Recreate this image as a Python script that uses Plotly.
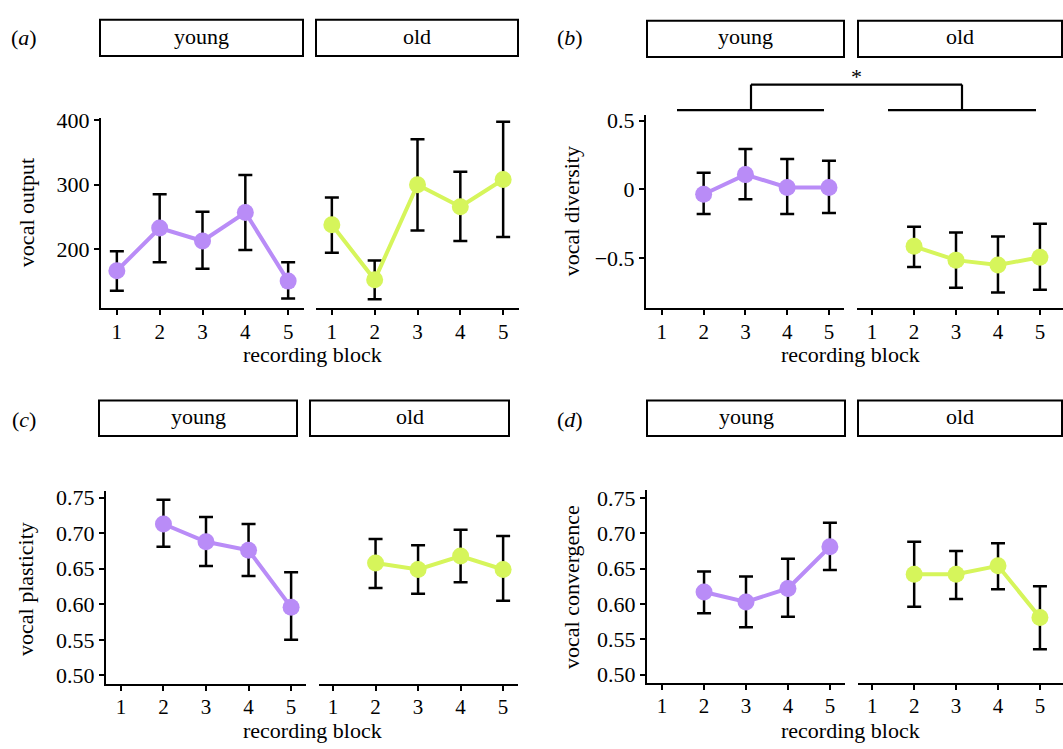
import plotly.graph_objects as go

W, H = 1063, 749

blocks = [1, 2, 3, 4, 5]
tick_labels = ["1", "2", "3", "4", "5"]

# (a) vocal output
a_young = [167, 233, 213, 257, 151]
a_young_hi = [197, 285, 258, 315, 180]
a_young_lo = [136, 180, 170, 199, 124]
a_old = [238, 153, 300, 266, 308]
a_old_hi = [280, 183, 370, 320, 397]
a_old_lo = [195, 123, 229, 213, 219]

# (b) vocal diversity
b_young = [None, -0.036, 0.107, 0.014, 0.014]
b_young_hi = [None, 0.121, 0.293, 0.221, 0.207]
b_young_lo = [None, -0.179, -0.071, -0.179, -0.171]
b_old = [None, -0.414, -0.514, -0.550, -0.493]
b_old_hi = [None, -0.271, -0.314, -0.343, -0.250]
b_old_lo = [None, -0.564, -0.714, -0.750, -0.729]

# (c) vocal plasticity
c_young = [None, 0.713, 0.688, 0.676, 0.596]
c_young_hi = [None, 0.747, 0.723, 0.713, 0.645]
c_young_lo = [None, 0.681, 0.654, 0.640, 0.550]
c_old = [None, 0.658, 0.649, 0.668, 0.649]
c_old_hi = [None, 0.692, 0.683, 0.705, 0.696]
c_old_lo = [None, 0.623, 0.615, 0.631, 0.605]

# (d) vocal convergence
d_young = [None, 0.617, 0.603, 0.622, 0.681]
d_young_hi = [None, 0.646, 0.639, 0.664, 0.715]
d_young_lo = [None, 0.587, 0.567, 0.582, 0.648]
d_old = [None, 0.642, 0.642, 0.654, 0.581]
d_old_hi = [None, 0.688, 0.675, 0.686, 0.625]
d_old_lo = [None, 0.596, 0.607, 0.621, 0.536]

PURPLE = "#B98CF7"
GREEN = "#D6F55B"
FONT = "Liberation Serif"
FS = 22
TFS = 21

def px(x):
    return x / W

def py(y):
    return 1 - y / H

fig = go.Figure()

def add_series(vals, hi, lo, color, xa, ya):
    plus = [None if v is None else h - v for v, h in zip(vals, hi)]
    minus = [None if v is None else v - l for v, l in zip(vals, lo)]
    fig.add_trace(go.Scatter(
        x=blocks, y=vals, mode="lines+markers", xaxis=xa, yaxis=ya,
        line=dict(color=color, width=4),
        marker=dict(color=color, size=17),
        error_y=dict(type="data", array=plus, arrayminus=minus, symmetric=False,
                     color="black", thickness=2.5, width=7),
        showlegend=False, connectgaps=False, cliponaxis=False,
    ))

panels = [
    dict(yd=(110, 304), xy=(101, 304), xo=(316, 519), yr=[109, 403],
         tv=[200, 300, 400], tt=["200", "300", "400"], ry=[0.63, 5.37], ro=[0.63, 5.37],
         data=(a_young, a_young_hi, a_young_lo, a_old, a_old_hi, a_old_lo)),
    dict(yd=(107, 304), xy=(646, 844), xo=(857, 1063), yr=[-0.864, 0.54],
         tv=[-0.5, 0, 0.5], tt=["\u22120.5", "0", "0.5"], ry=[0.62, 5.36], ro=[0.64, 5.55],
         data=(b_young, b_young_hi, b_young_lo, b_old, b_old_hi, b_old_lo)),
    dict(yd=(490, 687), xy=(106, 306), xo=(319, 518), yr=[0.4876, 0.7597],
         tv=[0.5, 0.55, 0.6, 0.65, 0.7, 0.75],
         tt=["0.50", "0.55", "0.60", "0.65", "0.70", "0.75"], ry=[0.65, 5.35], ro=[0.67, 5.35],
         data=(c_young, c_young_hi, c_young_lo, c_old, c_old_hi, c_old_lo)),
    dict(yd=(489, 686), xy=(647, 845), xo=(858, 1063), yr=[0.488, 0.7615],
         tv=[0.5, 0.55, 0.6, 0.65, 0.7, 0.75],
         tt=["0.50", "0.55", "0.60", "0.65", "0.70", "0.75"], ry=[0.64, 5.36], ro=[0.66, 5.55],
         data=(d_young, d_young_hi, d_young_lo, d_old, d_old_hi, d_old_lo)),
]

layout = {}
ytickfont = dict(family=FONT, size=FS, color="black")
xtickfont = dict(family=FONT, size=TFS, color="black")
for i, p in enumerate(panels):
    yi = i + 1
    xyi = 2 * i + 1
    xoi = 2 * i + 2
    yname = "yaxis" if yi == 1 else f"yaxis{yi}"
    layout[yname] = dict(
        domain=[py(p["yd"][1]), py(p["yd"][0])], range=p["yr"],
        anchor=f"x{xyi}" if xyi > 1 else "x",
        showline=True, linecolor="black", linewidth=2, ticks="outside", ticklen=5,
        tickwidth=1.5, tickcolor="black", tickvals=p["tv"], ticktext=p["tt"],
        showgrid=False, zeroline=False, tickfont=ytickfont,
    )
    yref = "y" if yi == 1 else f"y{yi}"
    for xi, dom, rng in ((xyi, p["xy"], p["ry"]), (xoi, p["xo"], p["ro"])):
        xname = "xaxis" if xi == 1 else f"xaxis{xi}"
        layout[xname] = dict(
            domain=[px(dom[0]), px(dom[1])], range=rng, anchor=yref,
            showline=True, linecolor="black", linewidth=2, ticks="outside", ticklen=5,
            tickwidth=1.5, tickcolor="black", tickvals=blocks, ticktext=tick_labels,
            showgrid=False, zeroline=False, tickfont=xtickfont, ticklabelstandoff=-2,
        )
    yv, yh, yl, ov, oh, ol = p["data"]
    add_series(yv, yh, yl, PURPLE, "x" if xyi == 1 else f"x{xyi}", yref)
    add_series(ov, oh, ol, GREEN, f"x{xoi}", yref)

shapes = []
annotations = []

strips = [
    ((10, 47), (100, 303), (316, 518)),
    ((11, 48), (647, 844), (858, 1062)),
    ((398, 434), (99, 297), (310, 509)),
    ((398, 434), (647, 845), (858, 1062)),
]
for (y0, y1), yb, ob in strips:
    for (x0, x1), label in ((yb, "young"), (ob, "old")):
        shapes.append(dict(type="rect", xref="paper", yref="paper",
                           x0=px(x0), x1=px(x1), y0=py(y1), y1=py(y0),
                           line=dict(color="black", width=2)))
        annotations.append(dict(xref="paper", yref="paper", x=px((x0 + x1) / 2),
                                y=py((y0 + y1) / 2 - 2), text=label, showarrow=False,
                                font=dict(family=FONT, size=FS, color="black"),
                                xanchor="center", yanchor="middle"))

for letter, x, y in (("a", 24, 28), ("b", 570, 28), ("c", 24, 417), ("d", 570, 417)):
    annotations.append(dict(xref="paper", yref="paper", x=px(x), y=py(y),
                            text=f"(<i>{letter}</i>)", showarrow=False,
                            font=dict(family=FONT, size=FS, color="black"),
                            xanchor="center", yanchor="middle"))

for text, x, y in (("vocal output", 26, 207), ("vocal diversity", 571, 205),
                   ("vocal plasticity", 26, 590), ("vocal convergence", 571, 588)):
    annotations.append(dict(xref="paper", yref="paper", x=px(x), y=py(y), text=text,
                            textangle=-90, showarrow=False,
                            font=dict(family=FONT, size=FS, color="black"),
                            xanchor="center", yanchor="middle"))

for x, y in ((312, 351), (850, 351), (312, 734), (850, 734)):
    annotations.append(dict(xref="paper", yref="paper", x=px(x), y=py(y),
                            text="recording block", showarrow=False,
                            font=dict(family=FONT, size=FS, color="black"),
                            xanchor="center", yanchor="middle"))

seg = [((677, 102), (824, 102)), ((888, 102), (1036, 102)),
       ((751, 76), (751, 102)), ((751, 76), (962, 76)), ((962, 76), (962, 102))]
for (x0, y0), (x1, y1) in seg:
    shapes.append(dict(type="line", xref="paper", yref="paper",
                       x0=px(x0), y0=py(y0), x1=px(x1), y1=py(y1),
                       line=dict(color="black", width=2.2)))
annotations.append(dict(xref="paper", yref="paper", x=px(856), y=py(68), text="*",
                        showarrow=False, font=dict(family=FONT, size=FS, color="black"),
                        xanchor="center", yanchor="middle"))

fig.update_layout(
    width=W, height=H, margin=dict(l=0, r=0, t=0, b=0),
    paper_bgcolor="white", plot_bgcolor="white",
    shapes=shapes, annotations=annotations, showlegend=False,
    font=dict(family=FONT, size=FS, color="black"),
    **layout,
)

fig.write_html(
    "out.html",
    config={"displayModeBar": False},
    post_script="document.body.style.margin='0';document.body.style.overflow='hidden';",
)
